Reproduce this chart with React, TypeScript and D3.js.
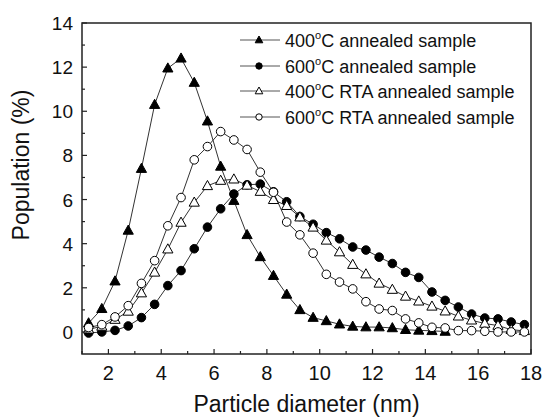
import React from "react";
import * as d3 from "d3";

// particle diameter (nm), one bin every 0.5 nm
const diameters = [
  1.25, 1.75, 2.25, 2.75, 3.25, 3.75, 4.25, 4.75, 5.25, 5.75, 6.25, 6.75,
  7.25, 7.75, 8.25, 8.75, 9.25, 9.75, 10.25, 10.75, 11.25, 11.75, 12.25, 12.75,
  13.25, 13.75, 14.25, 14.75, 15.25, 15.75, 16.25, 16.75, 17.25, 17.75,
];

// population (%)
const s400 = [
  0.4, 1.05, 2.3, 4.6, 7.4, 10.3, 11.95, 12.4, 11.3, 9.55, 7.5, 5.95,
  4.4, 3.4, 2.55, 1.7, 1.0, 0.65, 0.5, 0.35, 0.25, 0.22, 0.22, 0.18,
  0.1, 0.07, 0.05, 0.02,
];
const s600 = [
  -0.05, 0.0, 0.07, 0.27, 0.65, 1.25, 2.1, 2.78, 3.77, 4.75, 5.58, 6.25,
  6.67, 6.7, 6.35, 5.9, 5.23, 4.88, 4.5, 4.22, 3.85, 3.71, 3.39, 3.1,
  2.7, 2.47, 1.81, 1.43, 1.13, 0.81, 0.63, 0.59, 0.45, 0.33,
];
const s400rta = [
  0.12, 0.25, 0.56, 0.93, 1.76, 2.7, 3.75, 4.96, 5.87, 6.62, 6.86, 6.92,
  6.64, 6.36, 5.99, 5.72, 5.2, 4.74, 4.15, 3.62, 3.05, 2.62, 2.2, 1.92,
  1.61, 1.39, 1.16, 0.94, 0.71, 0.53, 0.38, 0.29, 0.1, 0.05,
];
const s600rta = [
  0.2, 0.33, 0.68, 1.19, 2.2, 3.23, 4.81, 6.09, 7.8, 8.4, 9.08, 8.7,
  8.27, 7.24, 6.33, 4.98, 4.4, 3.57, 2.61, 2.26, 1.95, 1.37, 1.04, 0.97,
  0.59, 0.41, 0.21, 0.18, 0.06, 0.06, 0.03, 0.0, 0.0, 0.0,
];

const temps = ["400", "600", "400", "600"];
const labelRest = ["C annealed sample", "C annealed sample", "C RTA annealed sample", "C RTA annealed sample"];
const shapes = ["triangle", "circle", "triangle", "circle"];
const filled = [true, true, false, false];
const allValues = [s400, s600, s400rta, s600rta];

const xTicks = [2, 4, 6, 8, 10, 12, 14, 16, 18];
const yTicks = [0, 2, 4, 6, 8, 10, 12, 14];

const W = 543;
const H = 417;
const font = "'Liberation Sans', Arial, Helvetica, sans-serif";

function Marker({ shape, fill, x, y, r }: any) {
  const f = fill ? "#000" : "#fff";
  if (shape === "circle") {
    return <circle cx={x} cy={y} r={r} fill={f} stroke="#000" strokeWidth={1} />;
  }
  const s = r * 1.25;
  const pts = [
    [x, y - s],
    [x + s * 0.95, y + s * 0.7],
    [x - s * 0.95, y + s * 0.7],
  ];
  return <polygon points={pts.map((p) => p.join(",")).join(" ")} fill={f} stroke="#000" strokeWidth={1} />;
}

export default function App() {
  const left = 82, right = 531, top = 23, bottom = 354;
  const x = d3.scaleLinear().domain([1, 18]).range([left, right]);
  const y = d3.scaleLinear().domain([-1, 14]).range([bottom, top]);

  const line = d3
    .line<[number, number]>()
    .x((d) => x(d[0]))
    .y((d) => y(d[1]));

  const series = allValues.map((vals) => vals.map((v, i) => [diameters[i], v] as [number, number]));

  const xMinor = d3.range(1, 18, 2);
  const yMinor = d3.range(1, 14, 2);

  const legX = 240, legY = [40, 66, 91, 117];

  return (
    <svg width={W} height={H} style={{ position: "absolute", left: 0, top: 0, background: "#fff" }} fontFamily={font}>
      <rect width={W} height={H} fill="#fff" />
      {/* lines */}
      {series.map((pts, k) => (
        <path key={"l" + k} d={line(pts) || ""} fill="none" stroke="#333" strokeWidth={1} />
      ))}
      {/* markers */}
      {series.map((pts, k) => (
        <g key={"m" + k}>
          {pts.map((p, i) => (
            <Marker key={i} shape={shapes[k]} fill={filled[k]} x={x(p[0])} y={y(p[1])} r={4.3} />
          ))}
        </g>
      ))}

      {/* frame */}
      <rect x={left} y={top} width={right - left} height={bottom - top} fill="none" stroke="#222" strokeWidth={1.5} />

      {/* x ticks */}
      {xTicks.map((t) => (
        <g key={"xt" + t}>
          <line x1={x(t)} x2={x(t)} y1={bottom} y2={bottom - 5} stroke="#222" strokeWidth={1.2} />
          <text x={x(t)} y={380} fontSize={20} textAnchor="middle" fill="#111">{t}</text>
        </g>
      ))}
      {xMinor.map((t) => (
        <line key={"xm" + t} x1={x(t)} x2={x(t)} y1={bottom} y2={bottom - 3} stroke="#222" strokeWidth={1.2} />
      ))}
      {/* y ticks */}
      {yTicks.map((t) => (
        <g key={"yt" + t}>
          <line x1={left} x2={left + 5} y1={y(t)} y2={y(t)} stroke="#222" strokeWidth={1.2} />
          <text x={73} y={y(t) + 7} fontSize={19} textAnchor="end" fill="#111">{t}</text>
        </g>
      ))}
      {yMinor.map((t) => (
        <line key={"ym" + t} x1={left} x2={left + 3} y1={y(t)} y2={y(t)} stroke="#222" strokeWidth={1.2} />
      ))}

      {/* axis titles */}
      <text x={(left + right) / 2} y={412} fontSize={23} textAnchor="middle" fill="#111">Particle diameter (nm)</text>
      <text transform="translate(29,165) rotate(-90)" fontSize={23} textAnchor="middle" fill="#111">Population (%)</text>

      {/* legend */}
      {legY.map((ly, k) => (
        <g key={"lg" + k}>
          <line x1={legX} x2={legX + 40} y1={ly} y2={ly} stroke="#555" strokeWidth={1} />
          <Marker shape={shapes[k]} fill={filled[k]} x={legX + 19} y={ly} r={3.2} />
          <text x={285} y={ly + 6.5} fontSize={18} fill="#111">
            {temps[k]}
            <tspan fontSize={11} dy={-8}>o</tspan>
            <tspan dy={8}>{labelRest[k]}</tspan>
          </text>
        </g>
      ))}
    </svg>
  );
}
